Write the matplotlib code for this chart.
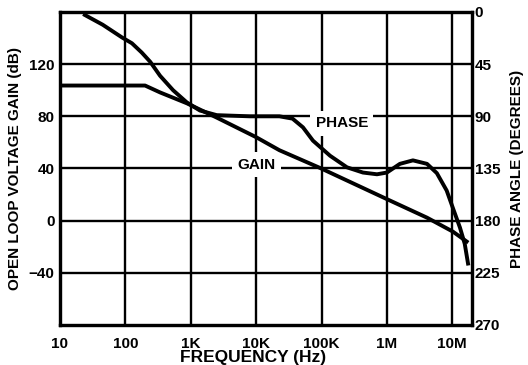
#!/usr/bin/env python3
"""Open loop gain / phase vs frequency (Bode plot)."""
import matplotlib
matplotlib.use("Agg")
import matplotlib.pyplot as plt

plt.rcParams["font.family"] = ["Liberation Sans", "DejaVu Sans"]
plt.rcParams["font.weight"] = "bold"

# values
gain_freq = [10, 200, 340, 870, 2.5e3, 1e4, 2.27e4, 9.5e4, 1e6, 4.1e6, 1.02e7, 1.66e7]
gain_db = [103.6, 103.6, 98.3, 90, 79, 64, 54, 40.4, 16.5, 2.3, -8.4, -16]

phase_freq = [24, 45, 89, 126, 178, 240, 339, 537, 870, 1.38e3, 2.5e3, 8e3,
              2.27e4, 3.6e4, 5.2e4, 7.4e4, 1.35e5, 2.45e5, 4.3e5, 7.05e5, 1e6,
              1.58e6, 2.5e6, 4.1e6, 5.8e6, 8.2e6, 1.02e7, 1.31e7, 1.55e7, 1.74e7]
phase_deg = [2.6, 11, 22, 27, 35, 43, 55, 67.5, 78, 85, 89, 90,
             90, 92, 99.5, 111, 124, 134, 138.5, 140, 138.5,
             131, 128, 131, 139, 154, 169, 186, 200, 217]

x_ticks = [10, 100, 1e3, 1e4, 1e5, 1e6, 1e7]
x_labels = ["10", "100", "1K", "10K", "100K", "1M", "10M"]
gain_ticks = [-40, 0, 40, 80, 120]
phase_ticks = [0, 45, 90, 135, 180, 225, 270]

fig = plt.figure(figsize=(5.28, 3.65), dpi=100)
ax = fig.add_axes([0.1136, 0.1096, 0.7803, 0.8576])
ax.set_xscale("log")
ax.set_xlim(10, 2e7)
ax.set_ylim(-80, 160)
ax.set_xticks(x_ticks)
ax.set_xticklabels(x_labels)
ax.xaxis.set_minor_locator(matplotlib.ticker.NullLocator())
ax.set_yticks(gain_ticks)
ax.tick_params(length=0, labelsize=11, width=0)
ax.tick_params(axis="x", pad=9)
ax.tick_params(axis="y", pad=4)
ax.grid(True, color="black", lw=1.7, zorder=1)
for s in ax.spines.values():
    s.set_linewidth(2.3)

ax.plot(gain_freq, gain_db, color="black", lw=2.8, zorder=4)

ax2 = ax.twinx()
ax2.set_ylim(270, 0)
ax2.set_yticks(phase_ticks)
ax2.tick_params(length=0, labelsize=11, pad=2)
for s in ax2.spines.values():
    s.set_linewidth(2.3)
ax2.plot(phase_freq, phase_deg, color="black", lw=2.8, zorder=4)

box = dict(facecolor="white", edgecolor="none", pad=4)
ax.text(2.04e5, 74.5, "PHASE", ha="center", va="center", fontsize=11,
        fontweight="bold", bbox=box, zorder=3)
ax.text(1e4, 43, "GAIN", ha="center", va="center", fontsize=11,
        fontweight="bold", bbox=box, zorder=3)

ax.set_xlabel("FREQUENCY (Hz)", fontsize=12.5, fontweight="bold")
ax.xaxis.set_label_coords(0.468, -0.08)
ax.set_ylabel("OPEN LOOP VOLTAGE GAIN (dB)", fontsize=11, fontweight="bold")
ax.yaxis.set_label_coords(-0.093, 0.5)
ax2.set_ylabel("PHASE ANGLE (DEGREES)", fontsize=11, fontweight="bold")
ax2.yaxis.set_label_coords(1.093, 0.5)

fig.savefig("out.png", dpi=100)
